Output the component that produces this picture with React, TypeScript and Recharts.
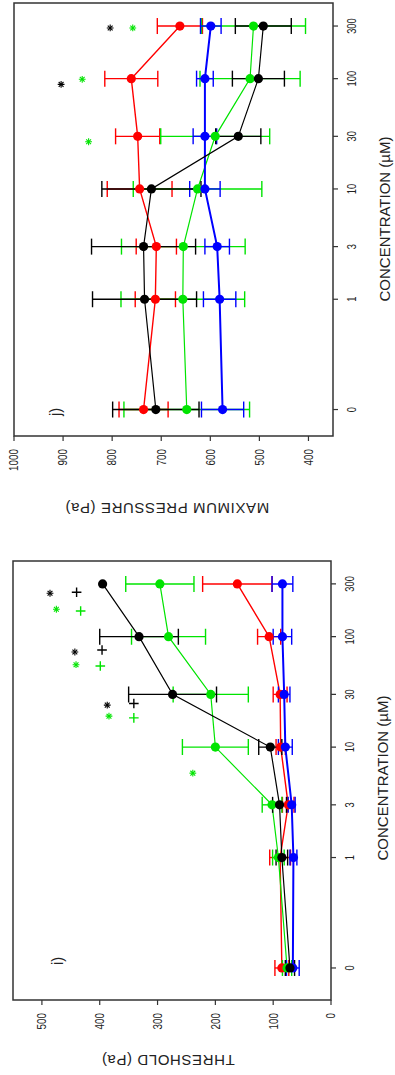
import React from 'react';
import { ComposedChart, Line, XAxis, YAxis, ErrorBar, Scatter, ReferenceArea } from 'recharts';

// ---------- shared categories ----------
const concentrations = [0, 1, 3, 10, 30, 100, 300];
const concentrationLabels = ['0', '1', '3', '10', '30', '100', '300'];

// ---------- panel i) THRESHOLD (Pa) ----------
const thresholdTicks = [0, 100, 200, 300, 400, 500];
const thresholdRed = [85, 88, 74, 87, 88, 107, 162];
const thresholdRedErr = [12, 18, 10, 8, 12, 20, 60];
const thresholdGreen = [76, 91, 102, 200, 208, 281, 296];
const thresholdGreenErr = [8, 10, 17, 57, 65, 64, 59];
const thresholdBlue = [66, 65, 68, 79, 81, 84, 84];
const thresholdBlueErr = [11, 6, 6, 12, 10, 16, 18];
const thresholdBlack = [71, 85, 89, 105, 274, 332, 395];
const thresholdBlackErr = [8, 10, 12, 20, 76, 68, 0];

// significance marks (position on log-concentration axis, value)
const thresholdBlackStars = [
  { pos: 2.393, v: 486 },
  { pos: 1.861, v: 443 },
  { pos: 1.38, v: 387 },
];
const thresholdBlackPlus = [
  { pos: 2.402, v: 440 },
  { pos: 1.879, v: 396 },
  { pos: 1.395, v: 341 },
];
const thresholdGreenStars = [
  { pos: 2.248, v: 475 },
  { pos: 1.746, v: 441 },
  { pos: 1.28, v: 384 },
  { pos: 0.764, v: 239 },
];
const thresholdGreenPlus = [
  { pos: 2.232, v: 433 },
  { pos: 1.734, v: 399 },
  { pos: 1.265, v: 341 },
];

// ---------- panel j) MAXIMUM PRESSURE (Pa) ----------
const pressureTicks = [400, 500, 600, 700, 800, 900, 1000];
const pressureRed = [736, 712, 710, 744, 748, 761, 662];
const pressureRedErr = [50, 41, 41, 66, 45, 54, 46];
const pressureGreen = [648, 656, 655, 626, 590, 519, 512];
const pressureGreenErr = [128, 126, 126, 131, 111, 102, 106];
const pressureBlue = [575, 581, 586, 611, 611, 611, 599];
const pressureBlueErr = [43, 33, 25, 31, 24, 17, 21];
const pressureBlack = [711, 734, 736, 720, 543, 502, 492];
const pressureBlackErr = [88, 106, 106, 101, 46, 53, 57];

const pressureBlackStars = [
  { pos: 2.46, v: 804 },
  { pos: 1.948, v: 904 },
];
const pressureGreenStars = [
  { pos: 2.46, v: 758 },
  { pos: 1.994, v: 861 },
  { pos: 1.428, v: 848 },
];

// ---------- helpers ----------
const RED = '#ff0000';
const GREEN = '#00e400';
const BLUE = '#0000ff';
const BLACK = '#000000';
const FONT = '"Liberation Sans", Arial, Helvetica, sans-serif';

const toPos = (c: number) => (c === 0 ? -1 : Math.log10(c));
const tickPositions = concentrations.map(toPos);

const series = (values: number[], errors: number[]) =>
  concentrations.map((c, i) => ({ pos: toPos(c), v: values[i], e: errors[i] }));

const XTick = (props: any) => {
  const { x, y, payload } = props;
  const idx = tickPositions.findIndex((p) => Math.abs(p - payload.value) < 1e-6);
  const label = idx >= 0 ? concentrationLabels[idx] : '';
  return (
    <text
      transform={`translate(${x},${y + 16}) scale(0.72,1)`}
      textAnchor="middle"
      fontSize={13}
      fontFamily={FONT}
      fill="#222"
    >
      {label}
    </text>
  );
};

const YTick = (props: any) => {
  const { x, y, payload } = props;
  return (
    <text
      transform={`translate(${x},${y}) scale(0.82,1)`}
      textAnchor="end"
      dy="0.36em"
      fontSize={12}
      fontFamily={FONT}
      fill="#222"
    >
      {payload.value}
    </text>
  );
};

const makeMark = (color: string, kind: 'star' | 'plus') => (props: any) => {
  const { cx, cy } = props;
  if (cx == null || cy == null) return <g />;
  if (kind === 'plus') {
    const h = 4.8;
    return (
      <g stroke={color} strokeWidth={1.4}>
        <line x1={cx - h} y1={cy} x2={cx + h} y2={cy} />
        <line x1={cx} y1={cy - h} x2={cx} y2={cy + h} />
      </g>
    );
  }
  const h = 3.4;
  const d = 2.4;
  return (
    <g stroke={color} strokeWidth={1.1}>
      <line x1={cx - h} y1={cy} x2={cx + h} y2={cy} />
      <line x1={cx} y1={cy - h} x2={cx} y2={cy + h} />
      <line x1={cx - d} y1={cy - d} x2={cx + d} y2={cy + d} />
      <line x1={cx - d} y1={cy + d} x2={cx + d} y2={cy - d} />
    </g>
  );
};

type SeriesDef = { data: any[]; color: string; width: number };

const renderSeries = (defs: SeriesDef[], keyPrefix: string) =>
  defs.map((s, i) => (
    <Line
      key={`${keyPrefix}-${i}`}
      data={s.data}
      dataKey="v"
      type="linear"
      stroke={s.color}
      strokeWidth={s.width}
      isAnimationActive={false}
      activeDot={false}
      dot={{ r: 4.6, fill: s.color, stroke: s.color, strokeWidth: 0 }}
    >
      <ErrorBar dataKey="e" direction="y" width={8} stroke={s.color} strokeWidth={1.4} isAnimationActive={false} />
    </Line>
  ));

const Panel = (props: {
  width: number;
  left: number;
  margin: any;
  yAxisWidth: number;
  xAxisHeight: number;
  xDomain: [number, number];
  yDomain: [number, number];
  yTicks: number[];
  lines: SeriesDef[];
  marks: { data: any[]; color: string; kind: 'star' | 'plus' }[];
  name: string;
}) => (
  <div style={{ position: 'absolute', left: props.left, top: 0 }}>
    <ComposedChart width={props.width} height={395} margin={props.margin}>
      <XAxis
        type="number"
        dataKey="pos"
        domain={props.xDomain}
        ticks={tickPositions}
        interval={0}
        allowDataOverflow
        axisLine={false}
        tickLine={{ stroke: '#333', strokeWidth: 1.2 }}
        tickSize={5}
        tickMargin={2}
        height={props.xAxisHeight}
        tick={<XTick />}
      />
      <YAxis
        type="number"
        domain={props.yDomain}
        ticks={props.yTicks}
        interval={0}
        allowDataOverflow
        axisLine={false}
        tickLine={{ stroke: '#333', strokeWidth: 1.2 }}
        tickSize={5}
        tickMargin={8}
        width={props.yAxisWidth}
        tick={<YTick />}
      />
      <ReferenceArea
        x1={props.xDomain[0]}
        x2={props.xDomain[1]}
        y1={props.yDomain[0]}
        y2={props.yDomain[1]}
        fill="none"
        fillOpacity={0}
        stroke="#333"
        strokeWidth={1.5}
        ifOverflow="visible"
      />
      {renderSeries(props.lines, props.name)}
      {props.marks.map((m, i) => (
        <Scatter
          key={`${props.name}-m-${i}`}
          data={m.data}
          dataKey="v"
          isAnimationActive={false}
          shape={makeMark(m.color, m.kind)}
        />
      ))}
    </ComposedChart>
  </div>
);

export default function App() {
  return (
    <div
      style={{
        position: 'absolute',
        left: 0,
        top: 0,
        width: 1075,
        height: 395,
        background: '#fff',
        transformOrigin: '0 0',
        transform: 'translateY(1075px) rotate(-90deg)',
        fontFamily: FONT,
      }}
    >
      <Panel
        name="threshold"
        left={0}
        width={540}
        margin={{ top: 13, right: 26, bottom: 0, left: 0 }}
        yAxisWidth={75}
        xAxisHeight={64}
        xDomain={[-1.29, 2.685]}
        yDomain={[0, 550]}
        yTicks={thresholdTicks}
        lines={[
          { data: series(thresholdRed, thresholdRedErr), color: RED, width: 1.4 },
          { data: series(thresholdGreen, thresholdGreenErr), color: GREEN, width: 1.2 },
          { data: series(thresholdBlue, thresholdBlueErr), color: BLUE, width: 2 },
          { data: series(thresholdBlack, thresholdBlackErr), color: BLACK, width: 1.2 },
        ]}
        marks={[
          { data: thresholdBlackStars, color: BLACK, kind: 'star' },
          { data: thresholdBlackPlus, color: BLACK, kind: 'plus' },
          { data: thresholdGreenStars, color: GREEN, kind: 'star' },
          { data: thresholdGreenPlus, color: GREEN, kind: 'plus' },
        ]}
      />
      <Panel
        name="pressure"
        left={540}
        width={535}
        margin={{ top: 14, right: 3, bottom: 0, left: 0 }}
        yAxisWidth={99}
        xAxisHeight={62}
        xDomain={[-1.24, 2.686]}
        yDomain={[350, 1000]}
        yTicks={pressureTicks}
        lines={[
          { data: series(pressureRed, pressureRedErr), color: RED, width: 1.4 },
          { data: series(pressureGreen, pressureGreenErr), color: GREEN, width: 1.2 },
          { data: series(pressureBlue, pressureBlueErr), color: BLUE, width: 2 },
          { data: series(pressureBlack, pressureBlackErr), color: BLACK, width: 1.2 },
        ]}
        marks={[
          { data: pressureBlackStars, color: BLACK, kind: 'star' },
          { data: pressureGreenStars, color: GREEN, kind: 'star' },
        ]}
      />
      <svg
        width={1075}
        height={395}
        style={{ position: 'absolute', left: 0, top: 0, pointerEvents: 'none' }}
      >
        <g fontFamily={FONT} fill="#222">
          <text transform="translate(15,168) rotate(-90)" textAnchor="middle" dy="0.35em" fontSize={15} letterSpacing={0.6}>
            THRESHOLD (Pa)
          </text>
          <text transform="translate(567,167) rotate(-90)" textAnchor="middle" dy="0.35em" fontSize={15} letterSpacing={0.6}>
            MAXIMUM PRESSURE (Pa)
          </text>
          <text x={297} y={383} textAnchor="middle" dy="0.35em" fontSize={15}>
            CONCENTRATION (µM)
          </text>
          <text x={856} y={385} textAnchor="middle" dy="0.35em" fontSize={15}>
            CONCENTRATION (µM)
          </text>
          <text transform="translate(114,57) scale(0.85,1)" textAnchor="middle" dy="0.35em" fontSize={17}>
            i)
          </text>
          <text transform="translate(663,55) scale(0.85,1)" textAnchor="middle" dy="0.35em" fontSize={17}>
            j)
          </text>
        </g>
      </svg>
    </div>
  );
}
